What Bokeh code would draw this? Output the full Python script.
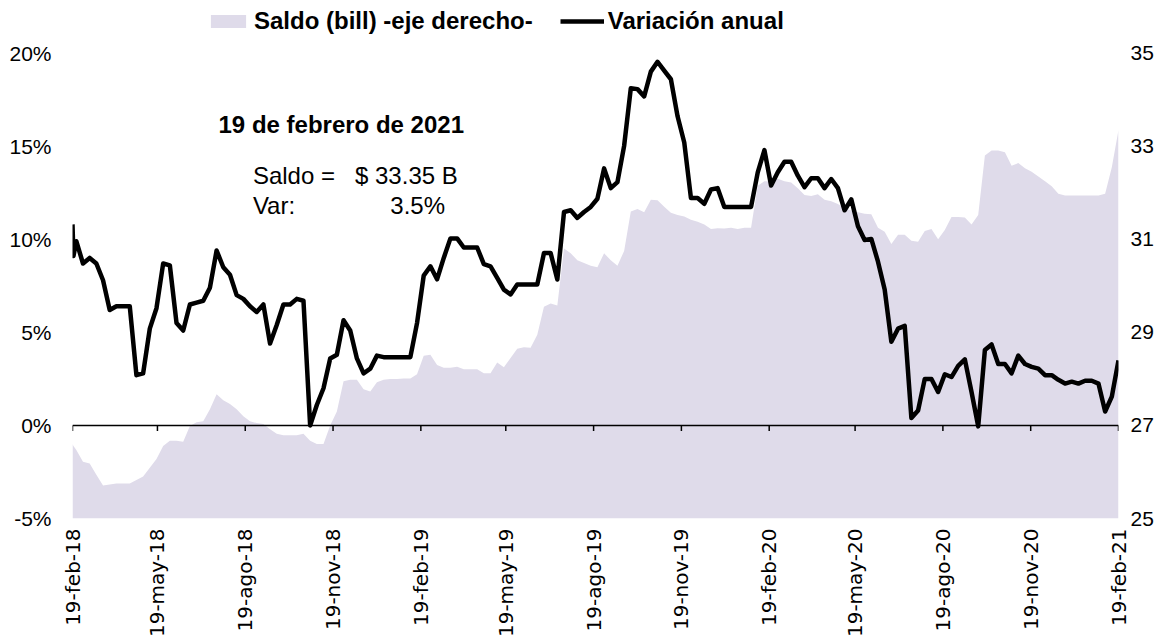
import math
import pandas as pd
from bokeh.plotting import figure
from bokeh.models import (Range1d, LinearAxis, FixedTicker, Span, Label, Legend,
                          LegendItem, ColumnDataSource)
from bokeh.embed import file_html
from bokeh.resources import INLINE

# ---------------- data ----------------
first_dates = ["2018-02-19", "2018-02-20"]
weekly_start = "2018-02-23"
weekly_end = "2021-02-19"

var_anual = [10.8, 9.1, 9.9, 8.7, 9.0, 8.7, 7.8, 6.2, 6.4, 6.4,
             6.4, 2.7, 2.8, 5.2, 6.3, 8.7, 8.6, 5.5, 5.1, 6.5,
             6.6, 6.7, 7.4, 9.4, 8.5, 8.1, 7.0, 6.8, 6.4, 6.1,
             6.5, 4.4, 5.4, 6.5, 6.5, 6.8, 6.7, 0.0, 1.1, 2.0,
             3.6, 3.8, 5.65, 5.1, 3.6, 2.8, 3.05, 3.75, 3.67, 3.67,
             3.67, 3.67, 3.67, 5.5, 8.05, 8.55, 7.85, 9.0, 10.05, 10.05,
             9.56, 9.56, 9.56, 8.67, 8.55, 7.93, 7.3, 7.04, 7.57, 7.57,
             7.57, 7.57, 9.26, 9.26, 7.84, 11.47, 11.56, 11.15, 11.47, 11.74,
             12.18, 13.81, 12.75, 13.07, 15.02, 18.12, 18.07, 17.68, 19.01, 19.54,
             19.06, 18.6, 16.61, 15.2, 12.22, 12.22, 11.91, 12.68, 12.75, 11.74,
             11.74, 11.74, 11.74, 11.74, 13.6, 14.79, 12.89, 13.6, 14.17, 14.17,
             13.42, 12.8, 13.28, 13.28, 12.75, 13.24, 12.75, 11.56, 12.15, 10.7,
             9.96, 10.02, 8.8, 7.3, 4.5, 5.2, 5.35, 0.4, 0.8, 2.5,
             2.5, 1.8, 2.75, 2.6, 3.2, 3.55, 1.8, -0.05, 4.05, 4.35,
             3.3, 3.3, 2.8, 3.75, 3.3, 3.15, 3.05, 2.7, 2.7, 2.45,
             2.25, 2.35, 2.25, 2.4, 2.4, 2.25, 0.75, 1.55, 3.5]

saldo = [26.60, 26.56, 26.47, 26.22, 26.18, 25.94, 25.71, 25.73, 25.75, 25.75,
         25.75, 25.83, 25.90, 26.09, 26.28, 26.56, 26.67, 26.67, 26.65, 26.99,
         27.07, 27.09, 27.35, 27.67, 27.54, 27.46, 27.35, 27.20, 27.09, 27.05,
         27.03, 26.92, 26.82, 26.79, 26.79, 26.79, 26.82, 26.67, 26.60, 26.60,
         27.00, 27.30, 27.95, 27.98, 27.98, 27.78, 27.73, 27.93, 27.98, 28.00,
         28.00, 28.01, 28.01, 28.10, 28.50, 28.52, 28.30, 28.24, 28.24, 28.26,
         28.21, 28.21, 28.21, 28.12, 28.12, 28.35, 28.25, 28.45, 28.65, 28.68,
         28.67, 28.95, 29.55, 29.62, 29.58, 30.80, 30.70, 30.55, 30.49, 30.43,
         30.40, 30.70, 30.55, 30.43, 30.75, 31.60, 31.65, 31.58, 31.85, 31.84,
         31.70, 31.57, 31.52, 31.49, 31.42, 31.38, 31.32, 31.22, 31.24, 31.23,
         31.25, 31.22, 31.25, 31.25, 32.15, 32.25, 32.25, 32.30, 32.25, 32.22,
         32.10, 31.95, 31.93, 31.97, 31.85, 31.82, 31.76, 31.67, 31.62, 31.58,
         31.55, 31.54, 31.25, 31.16, 30.90, 31.10, 31.10, 30.97, 30.95, 31.18,
         31.22, 31.00, 31.20, 31.48, 31.48, 31.47, 31.32, 31.52, 32.80, 32.91,
         32.91, 32.87, 32.58, 32.64, 32.53, 32.45, 32.35, 32.25, 32.14, 31.98,
         31.94, 31.94, 31.94, 31.94, 31.94, 31.94, 31.98, 32.55, 33.35]

tick_dates = ["2018-02-19", "2018-05-19", "2018-08-19", "2018-11-19",
              "2019-02-19", "2019-05-19", "2019-08-19", "2019-11-19",
              "2020-02-19", "2020-05-19", "2020-08-19", "2020-11-19",
              "2021-02-19"]
tick_labels = ["19-feb-18", "19-may-18", "19-ago-18", "19-nov-18",
               "19-feb-19", "19-may-19", "19-ago-19", "19-nov-19",
               "19-feb-20", "19-may-20", "19-ago-20", "19-nov-20",
               "19-feb-21"]

left_ticks = [-5, 0, 5, 10, 15, 20]
right_ticks = [25, 27, 29, 31, 33, 35]

legend_area = "Saldo (bill) -eje derecho-"
legend_line = "Variación anual"
note_title = "19 de febrero de 2021"
note_saldo_lbl = "Saldo ="
note_saldo_val = "$ 33.35 B"
note_var_lbl = "Var:"
note_var_val = "3.5%"

# ---------------- build ----------------
def ms(d):
    return pd.Timestamp(d).value // 10**6

fechas = [pd.Timestamp(d) for d in first_dates] + list(
    pd.date_range(weekly_start, weekly_end, freq="7D"))
assert len(fechas) == len(var_anual) == len(saldo)

src = ColumnDataSource(dict(x=fechas, var=var_anual, saldo=saldo,
                            base=[25] * len(saldo)))

AREA = "#DFDBEA"
FONT = "Liberation Sans"

# geometry: the -5%..20% band is 468 px tall; the plot area extends
# 53 px above 20% so the legend can sit inside it
BAND_PX = 468
TOP_PX = 53
px_per_pct = BAND_PX / 25.0
top_pct = 20 + TOP_PX / px_per_pct
top_saldo = 25 + (top_pct + 5) * 10.0 / 25.0

p = figure(width=1162, height=640, x_axis_type="datetime",
           x_range=Range1d(ms("2018-02-19"), ms("2021-02-19")),
           y_range=Range1d(-5, top_pct),
           output_backend="svg", toolbar_location=None,
           min_border_left=72, min_border_right=44,
           min_border_top=0, min_border_bottom=119)
p.outline_line_color = None
p.background_fill_color = "white"
p.border_fill_color = "white"
p.xgrid.visible = False
p.ygrid.visible = False

p.extra_y_ranges = {"saldo": Range1d(25, top_saldo)}

area_r = p.varea(x="x", y1="base", y2="saldo", source=src,
                 fill_color=AREA, y_range_name="saldo")

zero = Span(location=0, dimension="width", line_color="black", line_width=1.5)
p.add_layout(zero)

tick_ms = [ms(d) for d in tick_dates]
p.segment(x0=tick_ms, x1=tick_ms, y0=[0] * len(tick_ms),
          y1=[-0.3] * len(tick_ms), line_color="black", line_width=1.5)

line_r = p.line(x="x", y="var", source=src, line_color="black",
                line_width=4.5, line_join="round")

def plain_axis(ax):
    ax.axis_line_color = None
    ax.major_tick_line_color = None
    ax.minor_tick_line_color = None
    ax.major_tick_out = 0
    ax.major_tick_in = 0
    ax.minor_tick_out = 0
    ax.minor_tick_in = 0
    ax.major_label_text_color = "black"

# axes
xa = p.xaxis[0]
plain_axis(xa)
xa.ticker = FixedTicker(ticks=tick_ms)
xa.major_label_overrides = {t: l for t, l in zip(tick_ms, tick_labels)}
xa.major_label_orientation = math.pi / 2
xa.major_label_text_font = "DejaVu Sans"
xa.major_label_text_font_size = "20px"
xa.major_label_standoff = 10

ya = p.yaxis[0]
plain_axis(ya)
ya.ticker = FixedTicker(ticks=left_ticks)
ya.major_label_overrides = {t: f"{t}%" for t in left_ticks}
ya.major_label_text_font = FONT
ya.major_label_text_font_size = "21px"
ya.major_label_standoff = 21

ra = LinearAxis(y_range_name="saldo", ticker=FixedTicker(ticks=right_ticks))
plain_axis(ra)
ra.major_label_text_font = FONT
ra.major_label_text_font_size = "21px"
ra.major_label_standoff = 12
p.add_layout(ra, "right")

# legend (inside the plot area, above the 20% level)
legend = Legend(items=[LegendItem(label=legend_area, renderers=[area_r]),
                       LegendItem(label=legend_line, renderers=[line_r])],
                orientation="horizontal", location=(134, 483),
                glyph_width=44, glyph_height=16, label_standoff=4,
                spacing=27, padding=0, margin=0,
                border_line_color=None, background_fill_alpha=0,
                label_text_font=FONT,
                label_text_font_style="bold",
                label_text_font_size="24px", label_text_color="black")
p.add_layout(legend)

# annotations
def note(text, d, y, bold=False, size="24px"):
    lab = Label(x=ms(d), y=y, text=text, text_font=FONT,
                text_font_size=size, text_color="black",
                text_font_style="bold" if bold else "normal",
                text_baseline="alphabetic", text_align="left")
    p.add_layout(lab)

note(note_title, "2018-07-22", 16.19, bold=True, size="24px")
note(note_saldo_lbl, "2018-08-27", 13.45)
note(note_saldo_val, "2018-12-12", 13.45)
note(note_var_lbl, "2018-08-27", 11.80)
note(note_var_val, "2019-01-18", 11.80)

open("out.html", "w").write(file_html(p, INLINE))
